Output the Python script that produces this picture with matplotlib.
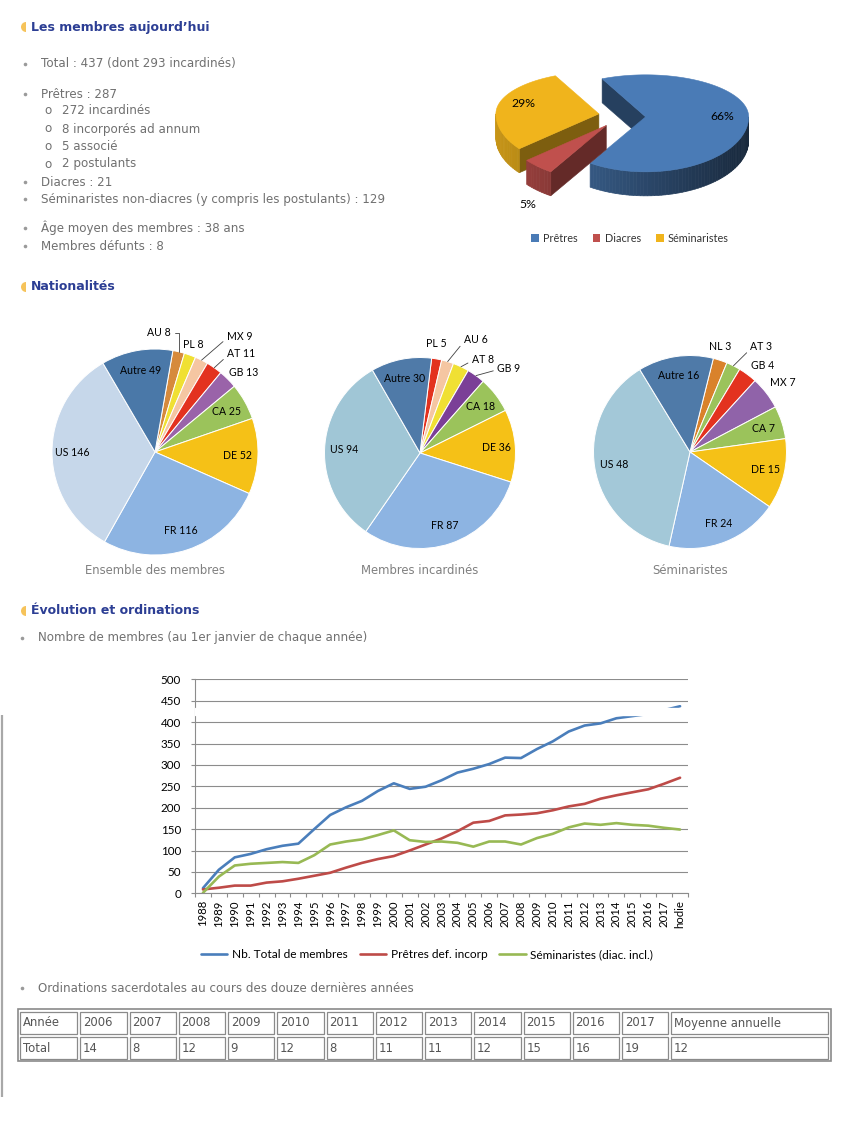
import numpy as np
import matplotlib
matplotlib.use("Agg")
import matplotlib.pyplot as plt
import matplotlib.colors as mcolors
from matplotlib.patches import Wedge, Polygon, Rectangle, Patch

W, H = 850, 1134

# --- Les membres aujourd'hui ---
summary_top = ["Total : 437 (dont 293 incardinés)", "Prêtres : 287"]
priests_sub = ["272 incardinés", "8 incorporés ad annum", "5 associé", "2 postulants"]
summary_mid = ["Diacres : 21", "Séminaristes non-diacres (y compris les postulants) : 129"]
summary_end = ["Âge moyen des membres : 38 ans", "Membres défunts : 8"]

state_labels = ["Prêtres", "Diacres", "Séminaristes"]
state_pct = [66, 5, 29]
state_colors = ["#4a7bb6", "#c0504d", "#f0b41c"]

# --- Nationalités ---
all_names = ["AU", "PL", "MX", "AT", "GB", "CA", "DE", "FR", "US", "Autre"]
all_counts = [8, 8, 9, 11, 13, 25, 52, 116, 146, 49]
all_colors = ["#d68a3c", "#f0e033", "#f5c6a2", "#e3321f", "#9a63a9",
              "#9bc35b", "#f5c117", "#8db4e2", "#c6d7ea", "#4a78a8"]

inc_names = ["PL", "AU", "AT", "GB", "CA", "DE", "FR", "US", "Autre"]
inc_counts = [5, 6, 8, 9, 18, 36, 87, 94, 30]
inc_colors = ["#e3321f", "#f5c6a2", "#f0e033", "#7b3f97", "#9bc35b",
              "#f5c117", "#8db4e2", "#a0c6d6", "#4f7aa8"]

sem_names = ["NL", "AT", "GB", "MX", "CA", "DE", "FR", "US", "Autre"]
sem_counts = [3, 3, 4, 7, 7, 15, 24, 48, 16]
sem_colors = ["#d9822b", "#9bc35b", "#e3321f", "#9063a9", "#9bc35b",
              "#f5c117", "#8db4e2", "#a3c8d8", "#4f7aa8"]

# --- Evolution ---
years = [str(y) for y in range(1988, 2018)] + ["hodie"]
total_members = [12, 55, 84, 92, 103, 111, 116, 150, 183, 201, 216, 239, 257, 244, 249, 264,
                 282, 291, 302, 317, 316, 337, 355, 378, 392, 397, 409, 414, 419, 428, 437]
priests_incorp = [9, 13, 18, 18, 25, 28, 34, 41, 48, 60, 71, 80, 87, 100, 114, 128,
                  145, 165, 169, 182, 184, 187, 194, 203, 209, 221, 229, 236, 243, 256, 270]
seminarians = [1, 39, 65, 69, 71, 73, 71, 89, 114, 121, 126, 136, 147, 124, 120, 121,
               118, 109, 121, 121, 114, 129, 139, 154, 163, 160, 164, 160, 158, 153, 149]
series_names = ["Nb. Total de membres", "Prêtres def. incorp", "Séminaristes (diac. incl.)"]
series_colors = ["#4a7ebb", "#be4b48", "#98b954"]

ord_years = ["2006", "2007", "2008", "2009", "2010", "2011", "2012", "2013", "2014", "2015", "2016", "2017"]
ord_totals = [14, 8, 12, 9, 12, 8, 11, 11, 12, 15, 16, 19]
ord_mean = 12

TEXT = "#707070"
HEAD = "#2c3e94"
CHART_FONT = "Lato"
BODY_SIZE = 8.6

fig = plt.figure(figsize=(W / 100, H / 100), dpi=100, facecolor="white")
page = fig.add_axes([0, 0, 1, 1])
page.set_xlim(0, W)
page.set_ylim(H, 0)
page.axis("off")


def px_axes(left, top, right, bottom):
    return fig.add_axes([left / W, 1 - bottom / H, (right - left) / W, (bottom - top) / H])


def heading(y, text):
    page.add_patch(Wedge((26, y), 5, 90, 270, fc="#f6c35a", ec="none"))
    page.text(31, y, text, fontsize=9, fontweight="bold", color=HEAD, va="center")


def bullet(y, text, xb=25, xt=41):
    page.plot([xb], [y], "o", ms=2.6, color="#9a9a9a", mec="none")
    page.text(xt, y, text, fontsize=BODY_SIZE, color=TEXT, va="center")


# header section
heading(27, "Les membres aujourd\u2019hui")
bullet(64, summary_top[0])
bullet(94, summary_top[1])
for y, t in zip([111, 129, 146, 164], priests_sub):
    page.text(44, y, "o", fontsize=BODY_SIZE, color=TEXT, va="center")
    page.text(62, y, t, fontsize=BODY_SIZE, color=TEXT, va="center")
for y, t in zip([182, 199], summary_mid):
    bullet(y, t)
for y, t in zip([228, 246], summary_end):
    bullet(y, t)


def pie3d(ax, values, colors, cx, cy, rx, ry_back, ry_front, depth, start, explode):
    """Exploded 3-D pie; the front half is drawn taller than the back half (perspective)."""
    def proj(u, v):
        return rx * u, -v * (ry_back if v >= 0 else ry_front)

    bounds = start + np.cumsum([0] + list(values)) / sum(values) * 360
    order = []
    for i in range(len(values)):
        mid = np.radians((bounds[i] + bounds[i + 1]) / 2)
        dx, dy = proj(explode * np.sin(mid), explode * np.cos(mid))
        order.append((cy + dy, i, cx + dx))
    centres = {}
    for oy, i, ox in sorted(order):
        a, b = bounds[i], bounds[i + 1]
        base = np.array(mcolors.to_rgb(colors[i]))

        def rim(t, ox=ox, oy=oy):
            t = np.radians(t)
            dx, dy = proj(np.sin(t), np.cos(t))
            return ox + dx, oy + dy

        # cut faces
        for t, visible in ((a, np.sin(np.radians(a)) < 0), (b, np.sin(np.radians(b)) > 0)):
            if visible:
                x1, y1 = rim(t)
                c = base * 0.52
                ax.add_patch(Polygon([(ox, oy), (x1, y1), (x1, y1 + depth), (ox, oy + depth)],
                                     fc=c, ec=c, lw=0.4))
        # outer wall, front half only
        for k in (-360, 0, 360):
            lo, hi = max(a, 90 + k), min(b, 270 + k)
            if hi > lo:
                ts = np.linspace(lo, hi, int((hi - lo) / 2) + 2)
                for t0, t1 in zip(ts[:-1], ts[1:]):
                    shade = np.clip(0.58 - 0.25 * np.sin(np.radians((t0 + t1) / 2)), 0.3, 0.85)
                    c = base * shade
                    x0, y0 = rim(t0)
                    x1, y1 = rim(t1)
                    ax.add_patch(Polygon([(x0, y0), (x1, y1), (x1, y1 + depth), (x0, y0 + depth)],
                                         fc=c, ec=c, lw=0.5))
        ts = np.linspace(a, b, int(b - a) + 2)
        ax.add_patch(Polygon([(ox, oy)] + [rim(t) for t in ts], fc=base, ec=base, lw=0.4))
        centres[i] = (ox, oy, a, b, rim)
    return centres


depth3 = 24
centres = pie3d(page, state_pct, state_colors, 622, 116, 103, 42, 55, depth3, -25, 0.23)
for i, v in enumerate(state_pct):
    ox, oy, a, b, rim = centres[i]
    mx, my = rim((a + b) / 2)
    if v >= 10:
        lx, ly = ox + 0.75 * (mx - ox), oy + 0.75 * (my - oy) - 3
    else:
        lx, ly = ox + 1.15 * (mx - ox), oy + 1.15 * (my - oy) + depth3 + 8
    page.text(lx, ly, f"{v}%", fontsize=8.8, family=CHART_FONT, ha="center", va="center", color="black")

fig.legend([Patch(fc=c, ec="none") for c in state_colors], state_labels, loc="center",
           bbox_to_anchor=(630 / W, 1 - 238 / H), ncol=3, frameon=False,
           prop={"family": CHART_FONT, "size": 7.8}, handlelength=0.7, handleheight=0.7,
           handletextpad=0.4, columnspacing=1.4, labelcolor="#333333")

# nationalities
heading(287, "Nationalités")


def draw_pie(cx, cy, r, names, counts, colors, start, outer, caption):
    ax = px_axes(cx - r, cy - r, cx + r, cy + r)
    ax.pie(counts, colors=colors, startangle=90 - start, counterclock=False,
           wedgeprops=dict(edgecolor="white", linewidth=0.7))
    ax.set_xlim(-1, 1)
    ax.set_ylim(-1, 1)
    bounds = start + np.cumsum([0] + list(counts)) / sum(counts) * 360
    for i, (name, n) in enumerate(zip(names, counts)):
        mid = np.radians((bounds[i] + bounds[i + 1]) / 2)
        ex, ey = np.sin(mid), np.cos(mid)
        label = f"{name} {n}"
        kw = dict(ha="center", va="center", fontsize=7.6, family=CHART_FONT, color="black")
        if name in outer:
            dx, dy, conn, rel = outer[name]
            tx, ty = ex + dx / r, ey + dy / r
            if conn is None:
                ax.text(tx, ty, label, **kw)
            else:
                ax.annotate(label, xy=(ex, ey), xytext=(tx, ty), annotation_clip=False,
                            arrowprops=dict(arrowstyle="-", lw=0.6, color="#404040",
                                            shrinkA=1, shrinkB=0, relpos=rel,
                                            connectionstyle=conn), **kw)
        else:
            ax.text(0.8 * ex, 0.8 * ey, label, **kw)
    page.text(cx, 570, caption, fontsize=8.4, color="#808080", ha="center", va="center")


draw_pie(155, 452, 103, all_names, all_counts, all_colors, 10,
         {"AU": (-20, 19, "angle,angleA=0,angleB=90,rad=0", (1, 0.5)),
          "PL": (3, 11, None, None),
          "MX": (38, 24, "arc3", (0, 0.3)),
          "AT": (27, 14, "arc3", (0, 0.3)),
          "GB": (16, 7, None, None)},
         "Ensemble des membres")
draw_pie(420, 453, 95.5, inc_names, inc_counts, inc_colors, 7,
         {"PL": (0, 15, None, None),
          "AU": (28, 22, "arc3", (0, 0.3)),
          "AT": (22, 7, "arc3", (0, 0.4)),
          "GB": (33, 7, "arc3", (0, 0.4))},
         "Membres incardinés")
draw_pie(690, 452, 96.5, sem_names, sem_counts, sem_colors, 14,
         {"NL": (0, 14, None, None),
          "AT": (28, 19, "arc3", (0, 0.3)),
          "GB": (15, 9, None, None),
          "MX": (16, 10, None, None)},
         "Séminaristes")

# evolution
heading(611, "Évolution et ordinations")
bullet(638, "Nombre de membres (au 1er janvier de chaque année)", xb=22, xt=38)

lc = px_axes(195, 679.3, 688, 893.3)
x = np.arange(len(years))
for vals, name, col in zip([total_members, priests_incorp, seminarians], series_names, series_colors):
    lc.plot(x, vals, color=col, lw=1.9, label=name, solid_capstyle="round", solid_joinstyle="round")
lc.axhspan(417, 433, color="white", zorder=3)
lc.set_xlim(-0.5, len(years) - 0.5)
lc.set_ylim(0, 500)
lc.set_yticks(range(0, 501, 50))
lc.yaxis.grid(True, color="#8c8c8c", lw=0.8)
lc.set_axisbelow(True)
for side in ("top", "right"):
    lc.spines[side].set_visible(False)
for side in ("left", "bottom"):
    lc.spines[side].set_color("#8c8c8c")
    lc.spines[side].set_linewidth(0.8)
lc.set_xticks(x)
lc.set_xticklabels(years, rotation=90, family=CHART_FONT, fontsize=8.2)
lc.set_xticks(np.arange(-0.5, len(years)), minor=True)
lc.tick_params(axis="x", which="major", length=0, pad=5)
lc.tick_params(axis="x", which="minor", length=3, color="#8c8c8c", width=0.8)
lc.tick_params(axis="y", length=3, color="#8c8c8c", width=0.8, pad=7)
for t in lc.get_yticklabels():
    t.set_family(CHART_FONT)
    t.set_fontsize(8.4)

fig.legend(*lc.get_legend_handles_labels(), loc="center", bbox_to_anchor=(427 / W, 1 - 955 / H),
           ncol=3, frameon=False, prop={"family": CHART_FONT, "size": 8.6},
           handlelength=2.2, handletextpad=0.4, columnspacing=1.0)

page.plot([2, 2], [715, 1097], color="#a8a8a8", lw=1.6, solid_capstyle="butt")

# ordination table
bullet(988, "Ordinations sacerdotales au cours des douze dernières années", xb=22, xt=38)
col_w = [60] + [49.25] * len(ord_years) + [160]
row_top, row_h = 1010, 25
page.add_patch(Rectangle((18, row_top - 1), sum(col_w) + 2, 2 * row_h + 2, fill=False,
                         ec="#8a8a8a", lw=1.2))
rows = [["Année"] + ord_years + ["Moyenne annuelle"],
        ["Total"] + [str(v) for v in ord_totals] + [str(ord_mean)]]
for r, cells in enumerate(rows):
    xl = 19
    for w, txt in zip(col_w, cells):
        y0 = row_top + r * row_h
        page.add_patch(Rectangle((xl + 1.5, y0 + 1.5), w - 3, row_h - 3, fill=False,
                                 ec="#8a8a8a", lw=0.9))
        page.text(xl + 4, y0 + row_h / 2 + 0.5, txt, fontsize=8.4, color="#555555", va="center")
        xl += w

fig.savefig("out.png", dpi=100, facecolor="white")
